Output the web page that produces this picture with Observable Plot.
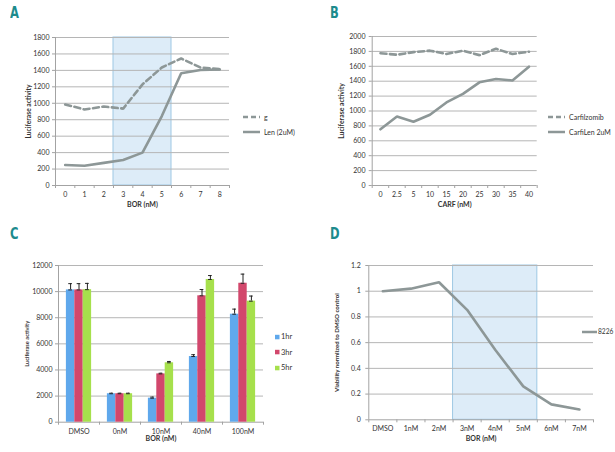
<!DOCTYPE html>
<html><head><meta charset="utf-8">
<script src="https://cdn.jsdelivr.net/npm/d3@7"></script>
<script src="https://cdn.jsdelivr.net/npm/@observablehq/plot@0.6"></script>
<style>
body{margin:0;background:#fff;}
#fig{position:relative;width:615px;height:452px;background:#fff;font-family:Lato,"Open Sans",sans-serif;overflow:hidden}
.panel{position:absolute}
.letter{position:absolute;font-family:"DejaVu Sans Condensed","DejaVu Sans",sans-serif;font-weight:bold;font-size:16px;color:#1d8b8d;transform:scaleX(0.8);transform-origin:left top;line-height:1}
.leg{position:absolute;font-size:7px;color:#333;line-height:1;white-space:nowrap;display:flex;align-items:center}
</style></head>
<body><div id="fig"></div>
<script>
// ---- Panel A ----
const catsA = ["0","1","2","3","4","5","6","7","8"];
const gA = [985, 925, 960, 935, 1230, 1435, 1545, 1435, 1415];
const lenA = [250, 240, 275, 310, 400, 845, 1365, 1405, 1410];
const shadeA = ["3", "5"];
const namesA = ["g", "Len (2uM)"];
// ---- Panel B ----
const catsB = ["0","2.5","5","10","15","20","25","30","35","40"];
const carfB = [1775, 1755, 1790, 1810, 1765, 1810, 1750, 1835, 1765, 1795];
const carfLenB = [755, 925, 855, 950, 1115, 1230, 1385, 1430, 1410, 1595];
const namesB = ["Carfilzomib", "CarfiLen 2uM"];
// ---- Panel C ----
const groupsC = ["DMSO","0nM","10nM","40nM","100nM"];
const seriesC = ["1hr","3hr","5hr"];
const c1hr = [10130, 2180, 1840, 5030, 8270];
const c3hr = [10130, 2180, 3700, 9680, 10640];
const c5hr = [10150, 2180, 4550, 10930, 9270];
const e1hr = [480, 40, 80, 140, 390];
const e3hr = [480, 40, 50, 480, 700];
const e5hr = [480, 40, 100, 300, 390];
const colorsC = ["#5fa8ec", "#d2476c", "#a6e04c"];
// ---- Panel D ----
const catsD = ["DMSO","1nM","2nM","3nM","4nM","5nM","6nM","7nM"];
const vD = [1.0, 1.02, 1.07, 0.855, 0.545, 0.26, 0.12, 0.08];
const shadeD = ["3nM", "5nM"];
const nameD = "8226";

const LINE = "#8d9797", GRID = "#b5b5b5", AXIS = "#a3a3a3", TXT = "#333";
const fig = document.getElementById("fig");
const style = {fontFamily: "Lato, 'Open Sans', sans-serif", fontSize: "7px", color: TXT, background: "transparent", overflow: "visible"};

function place(el, left, top) {
  el.classList.add("panel"); el.style.left = left + "px"; el.style.top = top + "px"; fig.appendChild(el);
}
function letter(t, left, top) {
  const d = document.createElement("div"); d.className = "letter"; d.textContent = t;
  d.style.left = left + "px"; d.style.top = top + "px"; fig.appendChild(d);
}
function legend(items, left, top, gap, lw = 17, mg = 3, fs = 7) {
  items.forEach((it, i) => {
    const d = document.createElement("div"); d.className = "leg"; d.style.fontSize = fs + "px";
    d.style.left = left + "px"; d.style.top = (top + i * gap - 4) + "px";
    const w = it.square ? 4.5 : lw;
    const s = d3.create("svg").attr("width", w).attr("height", 8).style("margin-right", (it.square ? 1.5 : mg) + "px");
    if (it.square) s.append("rect").attr("x", 0).attr("y", 1.8).attr("width", 4.5).attr("height", 4.5).attr("fill", it.color);
    else s.append("line").attr("x1", 0).attr("x2", w).attr("y1", 4).attr("y2", 4).attr("stroke", LINE).attr("stroke-width", 2.5).attr("stroke-dasharray", it.dash ? "5,3" : null);
    d.appendChild(s.node());
    const sp = document.createElement("span"); sp.textContent = it.name; d.appendChild(sp);
    fig.appendChild(d);
  });
}

function linePanel(o) {
  const n = o.cats.length;
  const idx = d3.range(n);
  const bounds = d3.range(n + 1).map(i => i - 0.5);
  const yt = d3.range(0, o.yMax + o.yStep / 2, o.yStep);
  const marks = [];
  if (o.shade) marks.push(Plot.rect([o.shade], {x1: d => o.cats.indexOf(d[0]) - 0.5, x2: d => o.cats.indexOf(d[1]) + 0.5, y1: 0, y2: o.yMax, fill: "#ddecf8", stroke: "#9ec8e4", strokeWidth: 1}));
  marks.push(
    Plot.gridY({ticks: yt.slice(1), stroke: GRID, strokeOpacity: 1}),
    Plot.axisY({ticks: yt, tickSize: 3, tickPadding: o.ytp ?? 3, stroke: AXIS, fill: TXT, label: null, tickFormat: o.yFmt || (d => String(d))}),
    Plot.axisX({ticks: idx, tickSize: 0, tickPadding: o.xtp ?? 7, fill: TXT, label: null, tickFormat: i => o.cats[i]}),
    Plot.axisX({ticks: bounds, tickSize: 3, stroke: AXIS, label: null, tickFormat: () => ""}),
    Plot.ruleX([-0.5], {stroke: AXIS}),
    Plot.ruleY([0], {stroke: AXIS})
  );
  o.series.forEach(s => marks.push(Plot.line(s.values.map((v, i) => ({i, v})), {x: "i", y: "v", stroke: LINE, strokeWidth: 2.6, strokeDasharray: s.dash ? "6,3.5" : null, strokeLinejoin: "miter"})));
  marks.push(
    Plot.text([o.xLabel], {frameAnchor: "bottom", dy: o.xdy, fontWeight: "bold", fontSize: 7, fill: TXT}),
    Plot.text([o.yLabel], {frameAnchor: "left", textAnchor: "middle", dx: o.ydx, rotate: -90, fontWeight: "bold", fontSize: o.yfs || 6.7, fill: TXT})
  );
  return Plot.plot({
    width: o.width, height: o.height, marginLeft: o.ml, marginRight: o.mr, marginTop: o.mt, marginBottom: o.mb,
    x: {domain: [-0.5, n - 0.5]}, y: {domain: [0, o.yMax]}, style, marks
  });
}

// A
place(linePanel({cats: catsA, series: [{values: gA, dash: true}, {values: lenA}], yMax: 1800, yStep: 200, shade: shadeA,
  width: 310, height: 215, ml: 55, mr: 81, mt: 37, mb: 30, xdy: 21, ydx: -27, yfs: 6.7, xLabel: "BOR (nM)", yLabel: "Luciferase activity"}), 0, 0);
letter("A", 10, 5);
legend([{name: namesA[0], dash: true}, {name: namesA[1]}], 243, 117, 15, 17, 4);

// B
place(linePanel({cats: catsB, series: [{values: carfB, dash: true}, {values: carfLenB}], yMax: 2000, yStep: 200,
  width: 310, height: 215, ml: 66.7, mr: 78.3, mt: 36, mb: 30, xdy: 21, ydx: -30, ytp: 3.7, yfs: 6.9, xLabel: "CARF (nM)", yLabel: "Luciferase activity"}), 305, 0);
letter("B", 330, 5);
legend([{name: namesB[0], dash: true}, {name: namesB[1]}], 548, 117, 15, 17, 4);

// C
(function () {
  const vals = [c1hr, c3hr, c5hr], errs = [e1hr, e3hr, e5hr];
  const rows = [];
  groupsC.forEach((g, gi) => seriesC.forEach((s, si) => rows.push({gi, si, s, v: vals[si][gi], e: errs[si][gi]})));
  const bw = 0.205;
  const x1 = d => d.gi - 1.5 * bw + d.si * bw;
  const cx = d => x1(d) + bw / 2;
  const yt = d3.range(0, 12001, 2000);
  const svg = Plot.plot({
    width: 300, height: 232, marginLeft: 58, marginRight: 37, marginTop: 45, marginBottom: 30.3,
    x: {domain: [-0.5, groupsC.length - 0.5]}, y: {domain: [0, 12000]},
    color: {domain: seriesC, range: colorsC},
    style,
    marks: [
      Plot.gridY({ticks: yt.slice(1), stroke: GRID, strokeOpacity: 1}),
      Plot.axisY({ticks: yt, tickSize: 3, tickPadding: 3, stroke: AXIS, fill: TXT, label: null, tickFormat: d => String(d)}),
      Plot.axisX({ticks: d3.range(groupsC.length), tickSize: 0, tickPadding: 7, fill: TXT, label: null, tickFormat: i => groupsC[i]}),
      Plot.axisX({ticks: d3.range(groupsC.length + 1).map(i => i - 0.5), tickSize: 3, stroke: AXIS, label: null, tickFormat: () => ""}),
      Plot.ruleX([-0.5], {stroke: AXIS}),
      Plot.ruleY([0], {stroke: AXIS}),
      Plot.ruleX(rows, {x: cx, y1: "v", y2: d => d.v + d.e, stroke: "#222", strokeWidth: 1}),
      Plot.ruleY(rows, {y: d => d.v + d.e, x1: d => cx(d) - 0.045, x2: d => cx(d) + 0.045, stroke: "#222", strokeWidth: 1}),
      Plot.rect(rows, {x1, x2: d => x1(d) + bw, y1: 0, y2: "v", fill: "s"}),
      Plot.ruleY(rows, {y: "v", x1: d => cx(d) - 0.045, x2: d => cx(d) + 0.045, stroke: "#222", strokeWidth: 1}),
      Plot.text(["BOR (nM)"], {frameAnchor: "bottom", dy: 19, fontWeight: "bold", fontSize: 7, fill: TXT}),
      Plot.text(["Luciferase activity"], {frameAnchor: "left", textAnchor: "middle", dx: -31, rotate: -90, fontWeight: "bold", fontSize: 5.7, fill: TXT})
    ]
  });
  place(svg, 0, 220);
  letter("C", 10, 226);
  legend(seriesC.map((s, i) => ({name: s, square: true, color: colorsC[i]})), 275, 337, 15.3, 17, 3, 7.5);
})();

// D
place(linePanel({cats: catsD, series: [{values: vD}], yMax: 1.2, yStep: 0.2, shade: shadeD, yFmt: d => String(+d.toFixed(1)),
  width: 310, height: 232, ml: 63.3, mr: 22, mt: 45, mb: 32.7, xdy: 21, xtp: 6.5, ydx: -31.6, ytp: 5, yfs: 6.1,
  xLabel: "BOR (nM)", yLabel: "Viability normlized to DMSO control"}), 305, 220);
letter("D", 330, 226);
legend([{name: nameD}], 582, 331.7, 15, 15, 1, 6.6);
</script>
</body></html>
